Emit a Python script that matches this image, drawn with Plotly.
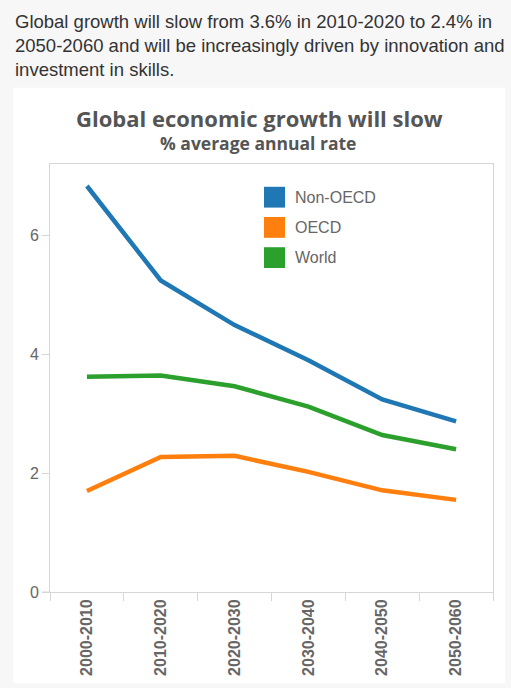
import plotly.graph_objects as go

W, H = 511, 688

periods = ["2000-2010", "2010-2020", "2020-2030", "2030-2040", "2040-2050", "2050-2060"]
non_oecd = [6.83, 5.24, 4.49, 3.90, 3.24, 2.87]
oecd = [1.70, 2.27, 2.29, 2.02, 1.71, 1.55]
world = [3.62, 3.64, 3.46, 3.12, 2.64, 2.40]

series_names = ["Non-OECD", "OECD", "World"]
series_values = [non_oecd, oecd, world]
series_colors = ["#1f77b4", "#ff7f0e", "#2ca02c"]

intro = ("Global growth will slow from 3.6% in 2010-2020 to 2.4% in<br>"
         "2050-2060 and will be increasingly driven by innovation and<br>"
         "investment in skills.")
title = "Global economic growth will slow"
subtitle = "% average annual rate"

# plot area in pixels
L, R, T, B = 50, 493, 164, 596
ml, mr, mt, mb = L, W - R, T, H - B
pw, ph = R - L, B - T


def px(x):
    return (x - L) / pw


def py(y):
    return (B - y) / ph


fig = go.Figure()
for name, vals, col in zip(series_names, series_values, series_colors):
    fig.add_trace(go.Scatter(x=periods, y=vals, name=name, mode="lines",
                             line=dict(color=col, width=4.5), showlegend=False,
                             hoverinfo="x+y+name"))

shapes = [
    # white panel
    dict(type="rect", xref="paper", yref="paper", x0=px(13), x1=px(505), y0=py(688), y1=py(87),
         fillcolor="white", line=dict(width=0), layer="below"),
    # axis extension to the left
    dict(type="line", xref="paper", yref="paper", x0=px(42), x1=px(50), y0=0, y1=0,
         line=dict(color="#d6d6d6", width=1)),
]
annotations = [
    dict(text=intro, xref="paper", yref="paper", x=px(13), y=py(8), xanchor="left", yanchor="top",
         align="left", showarrow=False,
         font=dict(family="Liberation Sans, Arial", size=18.5, color="#333333")),
    dict(text="<b>" + title + "</b>", xref="paper", yref="paper", x=px(259), y=py(135),
         xanchor="center", yanchor="bottom", showarrow=False,
         font=dict(family="Open Sans", size=22, color="#555555")),
    dict(text="<b>" + subtitle + "</b>", xref="paper", yref="paper", x=px(258), y=py(157),
         xanchor="center", yanchor="bottom", showarrow=False,
         font=dict(family="Open Sans", size=17.5, color="#555555")),
]

# manual legend with square swatches
for i, (name, col) in enumerate(zip(series_names, series_colors)):
    top = 187 + i * 30.5
    shapes.append(dict(type="rect", xref="paper", yref="paper", x0=px(264), x1=px(285),
                       y0=py(top + 21), y1=py(top), fillcolor=col, line=dict(width=0)))
    annotations.append(dict(text=name, xref="paper", yref="paper", x=px(293), y=py(top + 10.5),
                            xanchor="left", yanchor="middle", showarrow=False,
                            font=dict(family="Liberation Sans, Arial", size=16, color="#666666")))

fig.update_layout(
    width=W, height=H,
    margin=dict(l=ml, r=mr, t=mt, b=mb, pad=0),
    paper_bgcolor="#f7f7f7",
    plot_bgcolor="white",
    shapes=shapes,
    annotations=annotations,
    xaxis=dict(type="category", range=[-0.5, 5.5], tickson="boundaries", ticks="outside",
               ticklen=8, tickcolor="#d6d6d6", showline=True, linecolor="#d6d6d6", mirror=True,
               showgrid=False, tickangle=-90, zeroline=False,
               tickfont=dict(family="Liberation Sans, Arial", size=16, color="#666666", weight="bold")),
    yaxis=dict(range=[0, 7.2], tickvals=[0, 2, 4, 6], ticks="outside", ticklen=7,
               tickcolor="#d6d6d6", showline=True, linecolor="#d6d6d6", mirror=True,
               showgrid=False, zeroline=False,
               tickfont=dict(family="Liberation Sans, Arial", size=16, color="#666666")),
    showlegend=False,
)

fig.write_html("out.html")
